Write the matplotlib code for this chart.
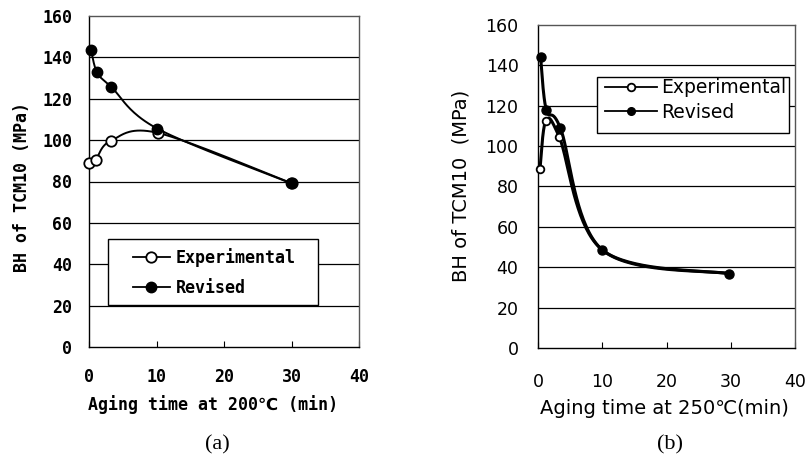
import numpy as np
import matplotlib
matplotlib.use("Agg")
import matplotlib.pyplot as plt
from matplotlib.lines import Line2D
from matplotlib.patches import Rectangle

# ---------------- data ----------------
a_exp_x = [0.0, 1.0, 3.2, 10.2, 30.0]
a_exp_y = [88.8, 90.6, 99.6, 103.5, 79.2]
a_rev_x = [0.3, 1.2, 3.3, 10.1, 29.9]
a_rev_y = [143.6, 132.7, 125.7, 105.6, 79.2]

b_exp_x = [0.3, 1.2, 3.3, 10.0, 29.8]
b_exp_y = [88.5, 112.3, 104.6, 48.6, 36.8]
b_rev_x = [0.4, 1.3, 3.5, 10.0, 29.8]
b_rev_y = [144.2, 117.8, 108.8, 48.6, 36.8]

xticks = [0, 10, 20, 30, 40]
yticks = [0, 20, 40, 60, 80, 100, 120, 140, 160]
series_names = ["Experimental", "Revised"]

W, H = 805, 470


def smooth(xs, ys, sx, sy, n=40):
    """Catmull-Rom smoothing (like spreadsheet 'smoothed line'), computed in pixel space."""
    P = np.column_stack([np.asarray(xs) * sx, np.asarray(ys) * sy])
    P = np.vstack([P[0], P, P[-1]])
    out = []
    t = np.linspace(0, 1, n)[:, None]
    for i in range(1, len(P) - 2):
        p0, p1, p2, p3 = P[i - 1], P[i], P[i + 1], P[i + 2]
        c = 0.5 * (2 * p1 + (-p0 + p2) * t + (2 * p0 - 5 * p1 + 4 * p2 - p3) * t ** 2
                   + (-p0 + 3 * p1 - 3 * p2 + p3) * t ** 3)
        out.append(c if i == 1 else c[1:])
    c = np.vstack(out)
    return c[:, 0] / sx, c[:, 1] / sy


fig = plt.figure(figsize=(W / 100, H / 100), dpi=100)
fig.patch.set_facecolor("white")


def fx(px):
    return px / W


def fy(py):
    return 1 - py / H


def make_axes(rect_px, font, fsize, weight, xpad, ypad):
    l, t, r, b = rect_px
    ax = fig.add_axes([l / W, 1 - b / H, (r - l) / W, (b - t) / H])
    ax.set_xlim(0, 40)
    ax.set_ylim(0, 160)
    ax.set_xticks(xticks)
    ax.set_yticks(yticks)
    ax.set_xticklabels([str(v) for v in xticks], family=font, fontsize=fsize, weight=weight)
    ax.set_yticklabels([str(v) for v in yticks], family=font, fontsize=fsize, weight=weight)
    ax.tick_params(axis="x", direction="in", length=4, width=0.8, pad=xpad)
    ax.tick_params(axis="y", length=0, pad=ypad)
    for v in yticks[1:-1]:
        ax.axhline(v, color="black", lw=0.9, zorder=1)
    for s in ax.spines.values():
        s.set_linewidth(1.0)
        s.set_color("black")
    ax.spines["right"].set_color("#555555")
    ax.spines["top"].set_color("#555555")
    return ax, (r - l) / 40.0, (b - t) / 160.0


def framed_legend(handles, box_px, anchor_px, prop, **kw):
    l, t, r, b = box_px
    fig.patches.append(Rectangle((fx(l), fy(b)), fx(r) - fx(l), fy(t) - fy(b),
                                 transform=fig.transFigure, facecolor="white",
                                 edgecolor="black", lw=1.0, zorder=8))
    leg = fig.legend(handles, series_names, loc="center left",
                     bbox_to_anchor=(fx(anchor_px[0]), fy(anchor_px[1])),
                     bbox_transform=fig.transFigure, prop=prop, frameon=False,
                     borderpad=0, borderaxespad=0, **kw)
    leg.set_zorder(9)
    return leg


# ---------------- panel (a) ----------------
fa = ["DejaVu Sans Mono", "DejaVu Sans"]
axa, sxa, sya = make_axes((89, 16, 359, 347), fa, 12, "bold", 15, 12)
cx, cy = smooth(a_exp_x, a_exp_y, sxa, sya)
axa.plot(cx, cy, color="black", lw=1.4, zorder=3, clip_on=False)
axa.plot(a_exp_x, a_exp_y, "o", ms=7.5, mfc="white", mec="black", mew=1.3, zorder=4, clip_on=False)
cx, cy = smooth(a_rev_x, a_rev_y, sxa, sya)
axa.plot(cx, cy, color="black", lw=1.4, zorder=5, clip_on=False)
axa.plot(a_rev_x, a_rev_y, "o", ms=7.5, mfc="black", mec="black", zorder=6, clip_on=False)

ha = [Line2D([], [], color="black", lw=1.3, marker="o", ms=7.5, mfc="white", mec="black", mew=1.3),
      Line2D([], [], color="black", lw=1.3, marker="o", ms=7.5, mfc="black", mec="black")]
framed_legend(ha, (108, 239, 318, 305), (133, 272.5),
              {"family": fa, "size": 12, "weight": "bold"},
              handlelength=2.2, handletextpad=0.36, labelspacing=0.75)

fig.text(213 / W, 1 - 405 / H, "Aging time at 200\u2103 (min)", family=fa, fontsize=12,
         weight="bold", ha="center", va="center")
fig.text(22 / W, 1 - 187 / H, "BH of TCM10 (MPa)", family=fa, fontsize=12,
         weight="bold", ha="center", va="center", rotation=90)
fig.text(217 / W, 1 - 445 / H, "(a)", family="Liberation Serif", fontsize=16,
         ha="center", va="center")

# ---------------- panel (b) ----------------
fb = ["DejaVu Sans"]
axb, sxb, syb = make_axes((538, 25, 795, 348), fb, 12.5, "normal", 18, 14)
cx, cy = smooth(b_exp_x, b_exp_y, sxb, syb)
axb.plot(cx, cy, color="black", lw=2.2, zorder=3, clip_on=False)
axb.plot(b_exp_x[:3], b_exp_y[:3], "o", ms=5.5, mfc="white", mec="black", mew=1.3, zorder=4, clip_on=False)
cx, cy = smooth(b_rev_x, b_rev_y, sxb, syb)
axb.plot(cx, cy, color="black", lw=2.2, zorder=5, clip_on=False)
axb.plot(b_rev_x, b_rev_y, "o", ms=6.5, mfc="black", mec="black", zorder=6, clip_on=False)

hb = [Line2D([], [], color="black", lw=1.3, marker="o", ms=5.5, mfc="white", mec="black", mew=1.3),
      Line2D([], [], color="black", lw=1.3, marker="o", ms=5.5, mfc="black", mec="black")]
framed_legend(hb, (597, 77, 789, 133), (605, 100),
              {"family": fb, "size": 13.5},
              handlelength=2.75, handletextpad=0.25, labelspacing=0.3)

fig.text(664 / W, 1 - 408 / H, "Aging time at 250\u2103(min)", family=fb, fontsize=14,
         ha="center", va="center")
fig.text(461 / W, 1 - 186 / H, "BH of TCM10  (MPa)", family=fb, fontsize=14,
         ha="center", va="center", rotation=90)
fig.text(670 / W, 1 - 445 / H, "(b)", family="Liberation Serif", fontsize=16,
         ha="center", va="center")

fig.savefig("out.png", dpi=100, facecolor="white")
